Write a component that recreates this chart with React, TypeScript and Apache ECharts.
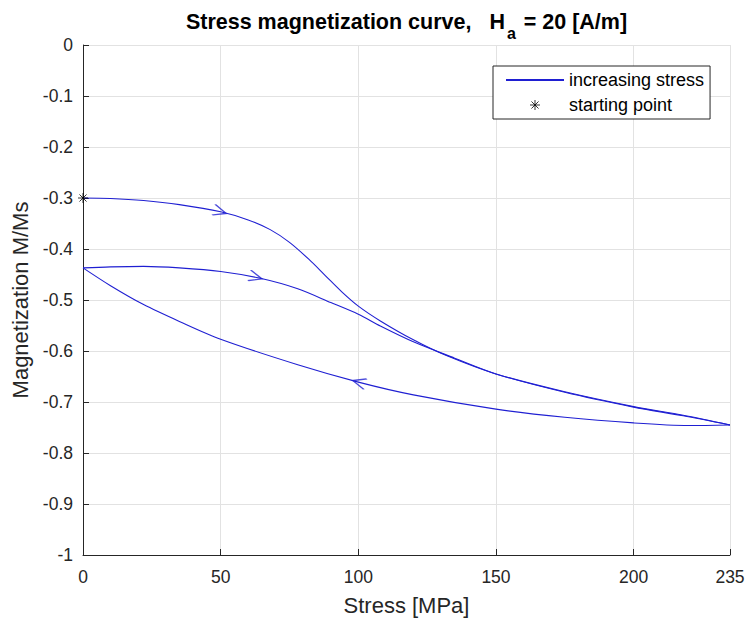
import React, { useEffect, useRef } from 'react';
import * as echarts from 'echarts';

// ---- data ----
const xTicks = [0, 50, 100, 150, 200, 235];
const yMin = -1;
const yMax = 0;
const yStep = 0.1;

// first loading: increasing stress from the starting point
const increasing1 = [
  [0, -0.3], [10, -0.301], [22, -0.305], [35, -0.313], [50, -0.327], [60, -0.343],
  [68, -0.362], [75, -0.387], [82, -0.42], [88, -0.452], [94, -0.484], [100, -0.512],
  [108, -0.541], [120, -0.578], [132, -0.609], [150, -0.645], [175, -0.68], [200, -0.709],
  [218, -0.726], [235, -0.745],
];
// unloading: decreasing stress back to zero
const decreasing = [
  [235, -0.745], [220, -0.746], [200, -0.741], [175, -0.73], [150, -0.714], [120, -0.686],
  [100, -0.661], [78, -0.627], [50, -0.577], [35, -0.542], [22, -0.509], [10, -0.472],
  [0, -0.437],
];
// second loading
const increasing2 = [
  [0, -0.437], [10, -0.435], [22, -0.434], [35, -0.437], [50, -0.444], [64, -0.457],
  [78, -0.478], [90, -0.505], [100, -0.528], [108, -0.551], [120, -0.582], [135, -0.614],
  [150, -0.645], [175, -0.681], [200, -0.71], [218, -0.727], [235, -0.745],
];
const startingPoint = [[0, -0.3]];
// stress at which the direction arrows sit, one per branch (travel direction = array order)
const arrowStress = [52, 65, 98];

const FONT = '"Liberation Sans", Arial, Helvetica, sans-serif';
const BLUE = '#1f1fd2';
const AXIS = '#262626';
const GRID = '#e2e2e2';

const ASTERISK = 'path://M0,-10L0,10M-10,0L10,0M-7.07,-7.07L7.07,7.07M-7.07,7.07L7.07,-7.07';
const CHEVRON = 'path://M-10,-5L0,0L-10,5M10,0L10,0';

function interp(br: number[][], s: number): number {
  for (let i = 0; i < br.length - 1; i++) {
    const a = br[i], b = br[i + 1];
    const lo = Math.min(a[0], b[0]), hi = Math.max(a[0], b[0]);
    if (s >= lo && s <= hi && hi > lo) {
      const t = (s - a[0]) / (b[0] - a[0]);
      return a[1] + t * (b[1] - a[1]);
    }
  }
  return br[br.length - 1][1];
}

export default function App() {
  const ref = useRef<HTMLDivElement>(null);

  useEffect(() => {
    if (!ref.current) return;
    const chart = echarts.init(ref.current, undefined, { renderer: 'svg' });
    const branches = [increasing1, increasing2, decreasing];

    const arrowPoints = arrowStress.map((s, i) => [s, interp(branches[i], s)]);

    const lineSeries = (data: number[][], id: string) => ({
      id,
      type: 'line',
      name: 'increasing stress',
      data,
      smooth: 0.3,
      symbol: 'none',
      lineStyle: { color: BLUE, width: 1.1 },
      itemStyle: { color: BLUE },
      z: 3,
    });

    const option: any = {
      animation: false,
      title: {
        text: '{m|Stress magnetization curve,   H}{s|a}{m| = 20 [A/m]}',
        left: 406.5,
        top: 11,
        textAlign: 'center',
        padding: 0,
        textStyle: {
          rich: {
            m: { fontFamily: FONT, fontWeight: 'bold', fontSize: 21.5, color: '#000', verticalAlign: 'top' },
            s: { fontFamily: FONT, fontWeight: 'bold', fontSize: 16, color: '#000', verticalAlign: 'bottom', padding: [14, 2, 0, 2] },
          },
        },
      },
      grid: { left: 83, top: 45, width: 647, height: 511, containLabel: false },
      legend: {
        orient: 'vertical',
        left: 493,
        top: 66,
        padding: [5, 6, 5, 12],
        itemWidth: 58,
        itemHeight: 10,
        itemGap: 7,
        backgroundColor: '#fff',
        borderColor: AXIS,
        borderWidth: 1,
        borderRadius: 0,
        textStyle: { fontFamily: FONT, fontSize: 18, color: '#000' },
        data: [
          { name: 'increasing stress', itemStyle: { opacity: 0 } },
          { name: 'starting point', itemStyle: { color: 'transparent', borderColor: '#000', borderWidth: 1 } },
        ],
      },
      xAxis: {
        type: 'value',
        min: 0,
        max: 235,
        name: 'Stress [MPa]',
        nameLocation: 'middle',
        nameGap: 39,
        nameTextStyle: { fontFamily: FONT, fontSize: 22, color: AXIS },
        axisLine: { show: true, onZero: false, lineStyle: { color: AXIS, width: 1 } },
        axisTick: { show: true, inside: true, length: 6, customValues: xTicks, lineStyle: { color: AXIS } },
        axisLabel: { customValues: xTicks, fontFamily: FONT, fontSize: 17.5, color: AXIS, margin: 13, showMaxLabel: true },
        splitLine: { show: true, lineStyle: { color: GRID, width: 1 } },
      },
      yAxis: {
        type: 'value',
        min: yMin,
        max: yMax,
        interval: yStep,
        name: 'Magnetization M/Ms',
        nameLocation: 'middle',
        nameGap: 50,
        nameTextStyle: { fontFamily: FONT, fontSize: 22, color: AXIS },
        axisLine: { show: true, onZero: false, lineStyle: { color: AXIS, width: 1 } },
        axisTick: { show: true, inside: true, length: 6, lineStyle: { color: AXIS } },
        axisLabel: {
          fontFamily: FONT,
          fontSize: 17.5,
          color: AXIS,
          margin: 10,
          formatter: (v: number) => String(Number(v.toFixed(1))),
        },
        splitLine: { show: true, lineStyle: { color: GRID, width: 1 } },
      },
      series: [
        lineSeries(increasing1, 'up1'),
        lineSeries(decreasing, 'down'),
        lineSeries(increasing2, 'up2'),
        {
          id: 'arrows',
          type: 'scatter',
          name: 'arrows',
          data: arrowPoints.map((p) => ({ value: p, symbolRotate: 0 })),
          symbol: CHEVRON,
          symbolSize: [26, 11],
          itemStyle: { color: 'transparent', borderColor: BLUE, borderWidth: 1.6 },
          z: 4,
          silent: true,
        },
        {
          id: 'start',
          type: 'scatter',
          name: 'starting point',
          data: startingPoint,
          symbol: ASTERISK,
          symbolSize: 10,
          itemStyle: { color: 'transparent', borderColor: '#000', borderWidth: 1 },
          z: 5,
        },
      ],
    };

    chart.setOption(option);

    // orient the arrowheads along the curve (in pixel space)
    const rotated = arrowStress.map((s, i) => {
      const br = branches[i];
      const dir = br[br.length - 1][0] > br[0][0] ? 1 : -1;
      const s2 = s + dir * 3;
      const p1 = chart.convertToPixel({ gridIndex: 0 }, [s, interp(br, s)]) as number[];
      const p2 = chart.convertToPixel({ gridIndex: 0 }, [s2, interp(br, s2)]) as number[];
      const ang = Math.atan2(p2[1] - p1[1], p2[0] - p1[0]);
      return { value: arrowPoints[i], symbolRotate: (-ang * 180) / Math.PI };
    });
    chart.setOption({ series: [{ id: 'arrows', data: rotated }] });

    return () => chart.dispose();
  }, []);

  return (
    <div
      ref={ref}
      style={{ position: 'fixed', left: 0, top: 0, width: 749, height: 621, background: '#fff' }}
    />
  );
}
